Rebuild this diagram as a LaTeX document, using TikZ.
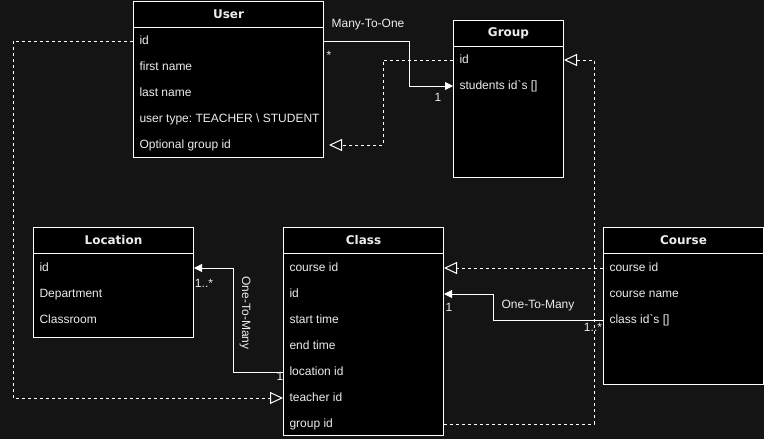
\documentclass[tikz,border=0pt]{standalone}
\usepackage{fontspec}
\setmainfont{Liberation Sans}
\newfontfamily\hdfont{DejaVu Sans}
\usepackage{xcolor}
\usetikzlibrary{positioning, arrows.meta}
\definecolor{bgc}{RGB}{20,20,20}
\definecolor{txt}{RGB}{236,236,236}
\frenchspacing

\begin{document}
\begin{tikzpicture}[x=1pt, y=-1pt, line width=1pt,
    font=\fontsize{12pt}{14pt}\selectfont,
    box/.style={draw=white, fill=black, anchor=north west, inner sep=0pt},
    hd/.style={box, minimum height=26pt, text=txt, font=\fontsize{12pt}{14pt}\selectfont\hdfont\bfseries},
    fld/.style={anchor=west, text=txt, inner xsep=6pt, inner ysep=0pt, text height=9pt, text depth=3pt},
    lbl/.style={text=txt, inner sep=1pt},
    assoc/.style={draw=white, -{Triangle[length=8pt,width=8pt]}},
    dep/.style={draw=white, dash pattern=on 3pt off 3pt, -{Triangle[open,length=13pt,width=12pt]}}]
  \fill[bgc] (0,0) rectangle (764,439);
  \useasboundingbox (0,0) rectangle (764,439);

  % User
  \node[box, minimum width=190pt, minimum height=156pt] (user) at (133,1) {};
  \node[hd, minimum width=190pt] (userhd) at (133,1) {User};
  \node[fld] (uid) at (133,41) {id};
  \node[fld] (ufirst) at (133,67) {first name};
  \node[fld] (ulast) at (133,93) {last name};
  \node[fld] (utype) at (133,119) {user type: TEACHER \textbackslash\ STUDENT};
  \node[fld] (uopt) at (133,145) {Optional group id};

  % Group
  \node[box, minimum width=110pt, minimum height=157pt] (group) at (453,20) {};
  \node[hd, minimum width=110pt] (grouphd) at (453,20) {Group};
  \node[fld] (gid) at (453,60) {id};
  \node[fld] (gstu) at (453,86) {students id\textasciigrave s []};

  % Location
  \node[box, minimum width=160pt, minimum height=110pt] (location) at (33,227) {};
  \node[hd, minimum width=160pt] (locationhd) at (33,227) {Location};
  \node[fld] (lid) at (33,268) {id};
  \node[fld] (ldep) at (33,294) {Department};
  \node[fld] (lroom) at (33,320) {Classroom};

  % Class
  \node[box, minimum width=160pt, minimum height=208pt] (class) at (283,227) {};
  \node[hd, minimum width=160pt] (classhd) at (283,227) {Class};
  \node[fld] (ccid) at (283,268) {course id};
  \node[fld] (cid) at (283,294) {id};
  \node[fld] (cstart) at (283,320) {start time};
  \node[fld] (cend) at (283,346) {end time};
  \node[fld] (cloc) at (283,372) {location id};
  \node[fld] (cteach) at (283,398) {teacher id};
  \node[fld] (cgrp) at (283,424) {group id};

  % Course
  \node[box, minimum width=160pt, minimum height=157pt] (course) at (603,227) {};
  \node[hd, minimum width=160pt] (coursehd) at (603,227) {Course};
  \node[fld] (kid) at (603,268) {course id};
  \node[fld] (kname) at (603,294) {course name};
  \node[fld] (kcls) at (603,320) {class id\textasciigrave s []};

  % relations
  \draw[assoc] (uid -| user.east) -- ++(85,0) |- (gstu.west);
  \draw[dep, shorten >=5pt] (gid.west) -- ++(-70,0) |- (uopt -| user.east);
  \draw[dep] (uid.west) -- ++(-120,0) |- (cteach.west);
  \draw[assoc] (cloc.west) -- ++(-50,0) |- (lid -| location.east);
  \draw[dep] (kid.west) -- (ccid -| class.east);
  \draw[assoc] (kcls.west) -- ++(-110,0) |- (cid -| class.east);
  \draw[dep] (cgrp -| class.east) -- ++(150,0) |- (gid -| group.east);

  % labels
  \node[lbl] (m2o) at (368,25) {Many-To-One};
  \node[lbl] (mstar) at (329,55) {*};
  \node[lbl] (mone) at (438,97) {1};
  \node[lbl, rotate=-90] (o2mloc) at (245,313) {One-To-Many};
  \node[lbl] (lmany) at (204,283) {1..*};
  \node[lbl] (lone) at (280,376) {1};
  \node[lbl] (o2mcls) at (538,306) {One-To-Many};
  \node[lbl] (cone) at (449,307) {1};
  \node[lbl] (cmany) at (593,327) {1..*};
\end{tikzpicture}
\end{document}
